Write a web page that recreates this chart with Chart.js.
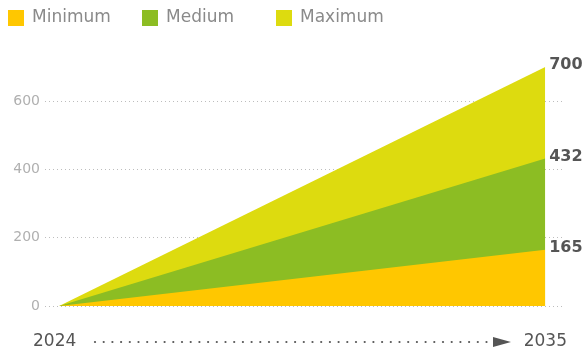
<!DOCTYPE html>
<html>
<head>
<meta charset="utf-8">
<script src="https://cdn.jsdelivr.net/npm/chart.js@4.4.0/dist/chart.umd.min.js"></script>
<style>
  html, body { margin: 0; padding: 0; background: #fff; }
  #wrap { width: 585px; height: 353px; }
</style>
</head>
<body>
<div id="wrap"><canvas id="growth"></canvas></div>
<script>
const years = [2024, 2035];
const minimum = [0, 165];
const medium = [0, 432];
const maximum = [0, 700];
const yTicks = [0, 200, 400, 600];
const seriesNames = ['Minimum', 'Medium', 'Maximum'];
const seriesColors = ['#ffc700', '#8cbd23', '#dddb0f'];

const FONT = '"DejaVu Sans", sans-serif';

const toPoints = (vals) => years.map((yr, i) => ({ x: yr, y: vals[i] }));

// legend squares across the top, fixed columns
const topLegend = {
  id: 'topLegend',
  afterDraw(chart) {
    const ctx = chart.ctx;
    ctx.save();
    ctx.font = '17px ' + FONT;
    ctx.textBaseline = 'middle';
    seriesNames.forEach((name, i) => {
      const x = 8 + i * 134;
      ctx.fillStyle = seriesColors[i];
      ctx.fillRect(x, 10, 16, 16);
      ctx.fillStyle = '#8a8a8a';
      ctx.fillText(name, x + 24, 18);
    });
    ctx.restore();
  }
};

// end values printed to the right of each area
const endValues = {
  id: 'endValues',
  afterDatasetsDraw(chart) {
    const ctx = chart.ctx;
    ctx.save();
    ctx.font = 'bold 16px ' + FONT;
    ctx.fillStyle = '#555';
    ctx.textBaseline = 'middle';
    chart.data.datasets.forEach((ds, i) => {
      const pts = chart.getDatasetMeta(i).data;
      const last = pts[pts.length - 1];
      ctx.fillText(ds.data[ds.data.length - 1].y, last.x + 4, last.y - 2);
    });
    ctx.restore();
  }
};

// timeline arrow under the plot
const timeline = {
  id: 'timeline',
  afterDraw(chart) {
    const ctx = chart.ctx;
    const y = 342;
    ctx.save();
    ctx.font = '17px ' + FONT;
    ctx.fillStyle = '#555';
    ctx.textBaseline = 'middle';
    ctx.textAlign = 'left';
    ctx.fillText(String(years[0]), 33, y);
    ctx.textAlign = 'right';
    ctx.fillText(String(years[years.length - 1]), 567, y);
    for (let x = 95; x <= 488; x += 8.7) {
      ctx.beginPath();
      ctx.arc(x, y, 1.1, 0, Math.PI * 2);
      ctx.fill();
    }
    ctx.beginPath();
    ctx.moveTo(493, y - 5);
    ctx.lineTo(511, y);
    ctx.lineTo(493, y + 5);
    ctx.closePath();
    ctx.fill();
    ctx.restore();
  }
};

new Chart(document.getElementById('growth'), {
  type: 'line',
  data: {
    datasets: [
      { label: seriesNames[0], data: toPoints(minimum), backgroundColor: seriesColors[0] },
      { label: seriesNames[1], data: toPoints(medium), backgroundColor: seriesColors[1] },
      { label: seriesNames[2], data: toPoints(maximum), backgroundColor: seriesColors[2] }
    ].map(ds => Object.assign(ds, {
      fill: 'origin',
      borderWidth: 0,
      pointRadius: 0,
      tension: 0
    }))
  },
  options: {
    responsive: true,
    maintainAspectRatio: false,
    animation: false,
    layout: { padding: { top: 67, bottom: 47, left: 0, right: 23 } },
    plugins: {
      legend: { display: false },
      tooltip: { enabled: false }
    },
    scales: {
      x: {
        type: 'linear',
        min: 2023.68,
        max: 2035.38,
        display: false
      },
      y: {
        min: 0,
        max: 700,
        afterBuildTicks: (scale) => { scale.ticks = yTicks.map(v => ({ value: v })); },
        afterFit: (scale) => { scale.width = 45; },
        grid: { color: '#bdbdbd', lineWidth: 1, drawTicks: false },
        border: { display: false, dash: [1, 3] },
        ticks: {
          padding: 5,
          color: '#b0b0b0',
          font: { family: FONT, size: 14 }
        }
      }
    }
  },
  plugins: [topLegend, endValues, timeline]
});
</script>
</body>
</html>
